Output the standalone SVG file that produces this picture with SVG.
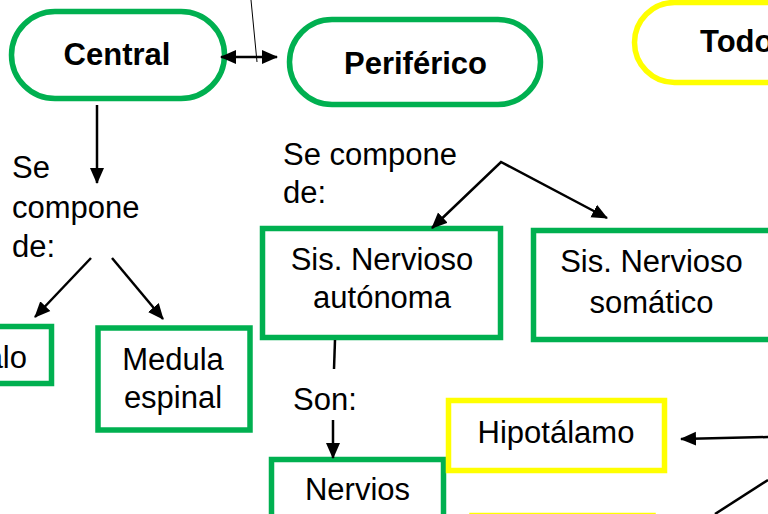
<svg xmlns="http://www.w3.org/2000/svg" width="768" height="514" viewBox="0 0 768 514">
<defs>
<marker id="ah" markerUnits="userSpaceOnUse" markerWidth="16" markerHeight="16" viewBox="0 0 16 16" refX="15" refY="8" orient="auto-start-reverse">
<path d="M0,1 L16,8 L0,15 Z" fill="#000"/>
</marker>
<style>
.g{fill:#fff;stroke:#00B050;stroke-width:5.5}
.y{fill:#fff;stroke:#FFFF00;stroke-width:5.5}
.t{font-family:"Liberation Sans",Arial,sans-serif;font-size:31px;fill:#000}
.b{font-weight:bold}
.c{text-anchor:middle}
.ln{stroke:#000;stroke-width:2.5;fill:none}
</style>
</defs>
<rect width="768" height="514" fill="#fff"/>
<g id="central"><rect class="g" x="11.5" y="11.5" width="213" height="87" rx="43.5"/><text class="t b c" x="117" y="65">Central</text></g>
<g id="periferico"><rect class="g" x="289.5" y="19.5" width="251" height="85" rx="42.5"/><text class="t b c" x="415.5" y="74">Periférico</text></g>
<g id="todo"><rect class="y" x="634.5" y="2.5" width="300" height="80" rx="40"/><text class="t b" x="700" y="52">Todo</text></g>
<g id="encefalo"><rect class="g" x="-60" y="326.5" width="111.5" height="57"/><text class="t" x="27" y="368" text-anchor="end">Encéfalo</text></g>
<g id="medula"><rect class="g" x="98" y="328" width="152" height="102"/><text class="t c" x="173" y="370">Medula</text><text class="t c" x="173" y="408">espinal</text></g>
<g id="sna"><rect class="g" x="262.5" y="228.5" width="238" height="109"/><text class="t c" x="382" y="270">Sis. Nervioso</text><text class="t c" x="382" y="308">autónoma</text></g>
<g id="sns"><rect class="g" x="533.5" y="230.5" width="260" height="109"/><text class="t c" x="651.5" y="272">Sis. Nervioso</text><text class="t c" x="651.5" y="313">somático</text></g>
<g id="nervios"><rect class="g" x="271.5" y="459.5" width="172" height="80"/><text class="t c" x="357.5" y="500">Nervios</text></g>
<g id="hipotalamo"><rect class="y" x="448.5" y="400.5" width="216" height="70"/><text class="t c" x="556" y="443">Hipotálamo</text></g>
<g id="yellow-bottom"><rect class="y" x="472" y="515.5" width="181" height="50"/></g>
<g id="labels">
<text class="t" x="12" y="178">Se</text><text class="t" x="12" y="218">compone</text><text class="t" x="12" y="257">de:</text>
<text class="t" x="283" y="165">Se compone</text><text class="t" x="283" y="203">de:</text>
<text class="t" x="293" y="410">Son:</text>
</g>
<g id="connectors">
<line class="ln" x1="221" y1="57" x2="277" y2="57" stroke-width="3" marker-start="url(#ah)" marker-end="url(#ah)"/>
<line x1="251" y1="0" x2="257" y2="62" stroke="#000" stroke-width="1"/>
<line class="ln" x1="97" y1="105" x2="97" y2="183" stroke-width="3" marker-end="url(#ah)"/>
<line class="ln" x1="91" y1="258" x2="35" y2="317" marker-end="url(#ah)"/>
<line class="ln" x1="112" y1="258" x2="163" y2="319" marker-end="url(#ah)"/>
<polyline class="ln" points="432,228 501,162 607,218" marker-start="url(#ah)" marker-end="url(#ah)"/>
<line class="ln" x1="335" y1="340" x2="334" y2="369"/>
<line class="ln" x1="333" y1="420" x2="333" y2="458" marker-end="url(#ah)"/>
<line class="ln" x1="768" y1="437" x2="681" y2="439" marker-end="url(#ah)"/>
<line class="ln" x1="768" y1="480" x2="715" y2="514"/>
</g>
</svg>
